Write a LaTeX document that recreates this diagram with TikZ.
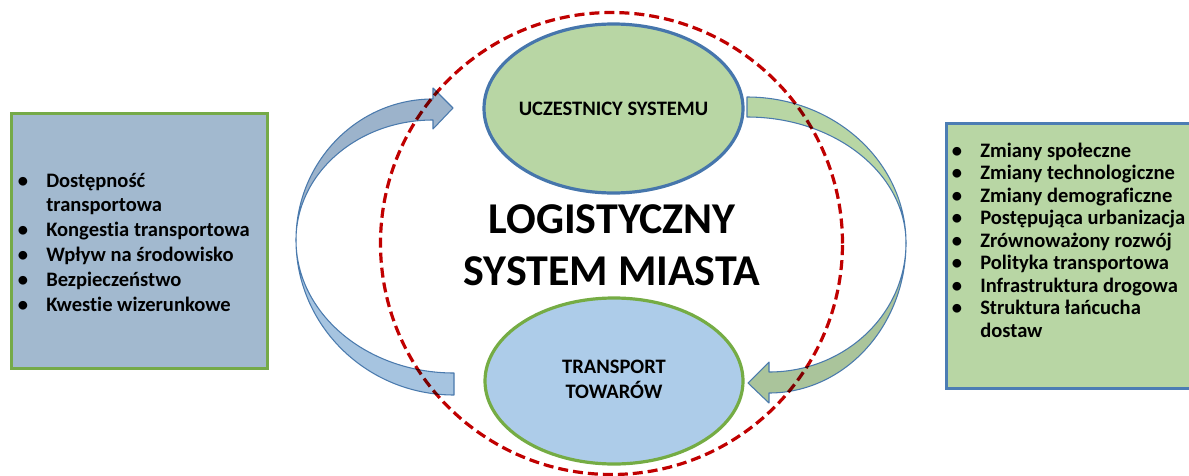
\documentclass[tikz,border=0pt]{standalone}
\usepackage{fontspec}
\setmainfont{Carlito}[Ligatures={NoCommon,NoRare,NoContextual}]
\usetikzlibrary{shapes.geometric}

\definecolor{lboxfill}{RGB}{162,185,207}
\definecolor{lboxline}{RGB}{117,170,72}
\definecolor{rboxfill}{RGB}{184,214,164}
\definecolor{rboxline}{RGB}{76,125,180}
\definecolor{topfill}{RGB}{184,214,164}
\definecolor{topline}{RGB}{70,118,172}
\definecolor{botfill}{RGB}{173,204,233}
\definecolor{botline}{RGB}{117,172,68}
\definecolor{dashred}{RGB}{192,0,0}
\definecolor{larrowdark}{RGB}{156,179,203}
\definecolor{larrowlight}{RGB}{166,196,224}
\definecolor{rarrowlight}{RGB}{184,214,164}
\definecolor{rarrowdark}{RGB}{170,196,155}
\definecolor{arrowline}{RGB}{74,122,173}

% bullet hung to the left of the item text
\newcommand\blt{\llap{\textbullet\hspace{13.6pt}}}

\begin{document}
\begin{tikzpicture}[x=0.75pt,y=-0.75pt,
  infobox/.style={rectangle, line width=2.25pt, inner sep=0pt},
  listtext/.style={anchor=base west, inner sep=0pt,
    font=\fontsize{15.4pt}{#1}\selectfont\bfseries},
  blob/.style={ellipse, line width=2.4pt, inner sep=0pt,
    font=\fontsize{15.4pt}{18.2pt}\selectfont\bfseries},
  ribbon/.style={draw=arrowline, line width=0.8pt, line join=round}]

\useasboundingbox (0,0) rectangle (1189,475);
\clip (0,0) rectangle (1189,475);

% side boxes
\node[infobox, draw=lboxline, fill=lboxfill,
      minimum width=192pt, minimum height=191.25pt] (lbox) at (139,240.5) {};
\node[infobox, draw=rboxline, fill=rboxfill,
      minimum width=186.75pt, minimum height=198.75pt] (rbox) at (1070.5,255.5) {};

\node[listtext=18.6pt] (llist) at (46,187) {\begin{tabular}[t]{@{}l@{}}
\blt Dostępność\\
transportowa\\
\blt Kongestia transportowa\\
\blt Wpływ na środowisko\\
\blt Bezpieczeństwo\\
\blt Kwestie wizerunkowe
\end{tabular}};

\node[listtext=16.9pt] (rlist) at (980,157) {\begin{tabular}[t]{@{}l@{}}
\blt Zmiany społeczne\\
\blt Zmiany technologiczne\\
\blt Zmiany demograficzne\\
\blt Postępująca urbanizacja\\
\blt Zrównoważony rozwój\\
\blt Polityka transportowa\\
\blt Infrastruktura drogowa\\
\blt Struktura łańcucha\\
dostaw
\end{tabular}};

% left curved arrow: light lower half, dark upper half with head
\path[ribbon, fill=larrowlight]
  (296,240) .. controls (296,325.6) and (366.7,395) .. (454,395)
  -- (454,373) .. controls (366.7,373) and (296,313.5) .. (296,240) -- cycle;
\path[ribbon, fill=larrowdark]
  (296,240) .. controls (296,162.1) and (357.3,99) .. (433,99)
  -- (433,88) -- (453,108) -- (433,129) -- (433,120)
  .. controls (357.3,120) and (296,173.7) .. (296,240) -- cycle;

% right curved arrow: light upper half, dark lower half with head
\path[ribbon, fill=rarrowlight]
  (747,97) .. controls (834.8,97) and (906,162.4) .. (906,243)
  .. controls (906,173.4) and (834.8,117) .. (747,117) -- cycle;
\path[ribbon, fill=rarrowdark]
  (906,243) .. controls (906,325.8) and (844.7,393) .. (769,393)
  -- (769,403) -- (748,383) -- (769,362) -- (769,372)
  .. controls (844.7,372) and (906,314.2) .. (906,243) -- cycle;

% dashed system boundary
\begin{scope}[blend mode=multiply]
\node[circle, draw=dashred, line width=2.4pt, dash pattern=on 7.5pt off 3.75pt,
      minimum size=346.5pt, inner sep=0pt] (frame) at (611.5,243.5) {};
\end{scope}

% the two subsystems
\node[blob, draw=topline, fill=topfill, minimum width=194.25pt,
      minimum height=126.75pt] (actors) at (613.5,108.5)
  {\makebox[0pt]{UCZESTNICY SYSTEMU}};
\node[blob, draw=botline, fill=botfill, minimum width=193.5pt,
      minimum height=124.5pt] (freight) at (614,381)
  {\makebox[0pt]{\begin{tabular}{@{}c@{}}TRANSPORT\\TOWARÓW\end{tabular}}};

% title
\node[anchor=base, inner sep=0pt, font=\fontsize{33pt}{39pt}\selectfont\bfseries]
  (title) at (612,233)
  {\begin{tabular}[t]{@{}c@{}}LOGISTYCZNY\\SYSTEM MIASTA\end{tabular}};

\end{tikzpicture}
\end{document}
